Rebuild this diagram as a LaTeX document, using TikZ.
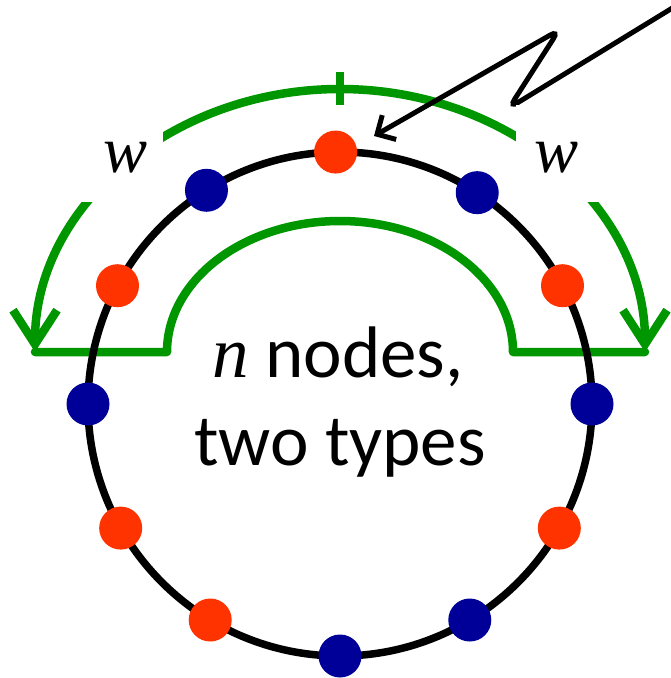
\documentclass[tikz,border=0pt]{standalone}
\usepackage{fontspec}
\setmainfont{Carlito}
\newfontfamily\mifont{Liberation Serif}
\usetikzlibrary{arrows.meta,calc}
\definecolor{nred}{RGB}{255,51,0}
\definecolor{nblue}{RGB}{0,0,153}
\definecolor{ngreen}{RGB}{0,150,0}
\begin{document}
\begin{tikzpicture}[x=1pt,y=-1pt,
  dot/.style={circle,inner sep=0pt,minimum size=43pt},
  reddot/.style={dot,fill=nred},
  bluedot/.style={dot,fill=nblue},
  gline/.style={draw=ngreen,line width=8.5pt,line cap=round,line join=round},
  wlabel/.style={inner sep=0pt,font=\fontsize{66}{70}\selectfont\mifont\itshape},
  bigtext/.style={anchor=base,inner sep=0pt,font=\fontsize{73}{88}\selectfont}]
\useasboundingbox (0,0) rectangle (670,678);
\coordinate (C) at (340,404);
% green span
\draw[gline,{Straight Barb[length=34pt,width=44pt]}-{Straight Barb[length=34pt,width=44pt]}]
  (35,352) arc[start angle=180,end angle=360,x radius=305,y radius=263];
\draw[gline] (35,352) -- (167,352)
  arc[start angle=180,end angle=360,x radius=173,y radius=131] -- (645,352);
\draw[gline,line cap=butt] (340,72) -- (340,105);
% ring
\draw[line width=7.5pt] (C) circle[radius=252];
\foreach \n/\a/\s in {1/91/reddot,2/122/bluedot,3/152/reddot,4/180/bluedot,
  5/209.5/reddot,6/239/reddot,7/270/bluedot,8/301/bluedot,9/330.5/reddot,
  10/0/bluedot,11/28/reddot,12/57/bluedot}
  \node[\s] (n\n) at ($(C)+(-\a:252)$) {};
% text
\node[bigtext] (t1) at (338,377) {{\mifont\itshape n} nodes,};
\node[bigtext] (t2) at (340,465) {two types};
% black zigzag arrow
\coordinate (a0) at (674,7);
\coordinate (a1) at (509,108);
\coordinate (a2) at (559,30);
\coordinate (tip) at (374,136);
\draw[line width=5pt,rounded corners=10pt,line cap=round,
  -{Straight Barb[length=14pt,width=28pt]}] (a0) -- (a1) -- (a2) -- (tip);
% white boxes with w labels
\fill[white] (77,105) rectangle (163,202);
\fill[white] (516,105) rectangle (603,202);
\node[wlabel] (wl) at (126,158) {w};
\node[wlabel] (wr) at (557,158) {w};
\end{tikzpicture}
\end{document}
